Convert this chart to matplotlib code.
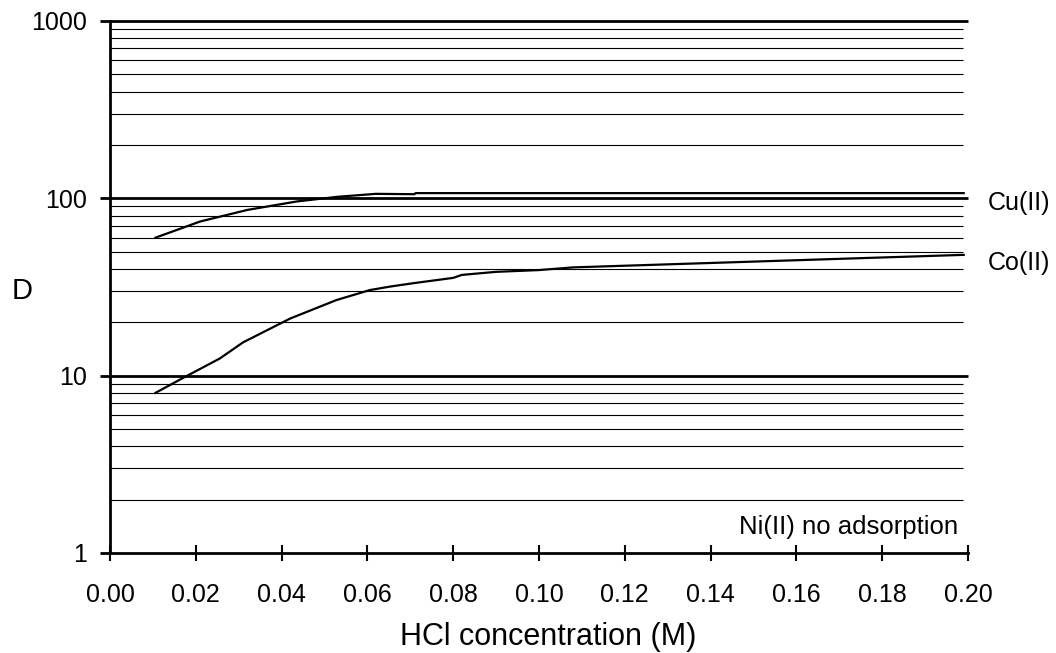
import matplotlib
matplotlib.use("Agg")
import matplotlib.pyplot as plt
from matplotlib.ticker import FixedLocator, NullFormatter
import numpy as np

cu_x = [0.0106, 0.021, 0.032, 0.0435, 0.053, 0.062, 0.071, 0.0712, 0.199]
cu_y = [60, 74, 86, 96, 102, 106, 105.5, 107, 107]

co_x = [0.0106, 0.017, 0.0256, 0.031, 0.042, 0.0528, 0.0606, 0.0653, 0.071, 0.080, 0.082, 0.090, 0.100, 0.108, 0.199]
co_y = [8.0, 9.7, 12.5, 15.4, 21.0, 26.7, 30.4, 31.8, 33.3, 35.6, 37.0, 38.5, 39.4, 40.8, 48.0]

x_ticks = [0.00, 0.02, 0.04, 0.06, 0.08, 0.10, 0.12, 0.14, 0.16, 0.18, 0.20]
y_ticks = [1, 10, 100, 1000]
y_tick_labels = ["1", "10", "100", "1000"]

plt.rcParams['font.family'] = ['Liberation Sans', 'DejaVu Sans']

fig = plt.figure(figsize=(10.56, 6.53), dpi=100)
ax = fig.add_axes([110/1056, 1-553/653, 858/1056, 532/653])

ax.set_yscale('log')
ax.set_xlim(0, 0.20)
ax.set_ylim(1, 1000)

minor = [m * 10**e for e in range(0, 3) for m in range(2, 10)]
ax.hlines(minor, 0, 0.1988, colors='black', linewidth=0.8, zorder=1)
ax.hlines([10, 100, 1000], 0, 0.20, colors='black', linewidth=2.0, zorder=1, clip_on=False)

ax.plot(cu_x, cu_y, color='black', linewidth=1.6, zorder=3)
ax.plot(co_x, co_y, color='black', linewidth=1.6, zorder=3)

ax.spines['top'].set_visible(False)
ax.spines['right'].set_visible(False)
ax.spines['left'].set_linewidth(2)
ax.spines['bottom'].set_linewidth(2)

ax.yaxis.set_major_locator(FixedLocator(y_ticks))
ax.yaxis.set_minor_locator(FixedLocator([]))
ax.yaxis.set_minor_formatter(NullFormatter())
ax.set_yticklabels(y_tick_labels)
ax.set_xticks(x_ticks)
ax.set_xticklabels([f"{v:.2f}" for v in x_ticks])

ax.tick_params(axis='y', which='major', direction='out', length=7.5, width=2.0, labelsize=18, pad=9)
ax.tick_params(axis='x', which='major', direction='inout', length=11.5, width=1.5, labelsize=18, pad=16)

ax.set_xlabel("HCl concentration (M)", fontsize=22)
ax.xaxis.set_label_coords((548-110)/858, (553-637)/532)
ax.xaxis.label.set_va('center')
fig.text(22/1056, 1-291/653, "D", fontsize=21, ha='center', va='center')

ax.text(1.023, 94, "Cu(II)", transform=ax.get_yaxis_transform(), fontsize=18, ha='left', va='center')
ax.text(1.023, 43.2, "Co(II)", transform=ax.get_yaxis_transform(), fontsize=18, ha='left', va='center')
ax.text(0.1977, 1.40, "Ni(II) no adsorption", fontsize=18.5, ha='right', va='center')

fig.savefig("out.png", dpi=100)
